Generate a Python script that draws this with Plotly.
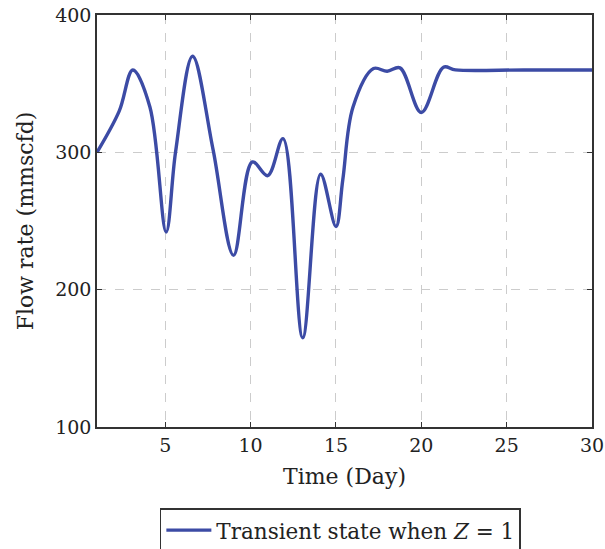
import plotly.graph_objects as go

time_day = [1, 2.3, 3.1, 4.1, 5.05, 5.6, 6.6, 7.8, 9.0, 10.1, 11.0, 11.9, 13.05, 14.1, 15.0, 15.4, 16.0, 17.2, 18.0, 18.75, 20.0, 21.3, 22.0, 26.0, 30]
flow_rate = [300, 330, 360, 333, 242, 300, 370, 302, 225, 293, 283, 310, 165, 284, 246, 280, 333, 361, 359, 361.5, 329, 362, 360, 360, 360]

x_ticks = [5, 10, 15, 20, 25, 30]
y_ticks = [100, 200, 300, 400]

font_family = "DejaVu Serif, Liberation Serif, serif"

fig = go.Figure()
fig.add_trace(go.Scatter(
    x=time_day, y=flow_rate, mode="lines",
    line=dict(color="#3c4ba5", width=3.4, shape="spline", smoothing=1.0),
    name="Transient state when <i>Z</i> = 1",
))

fig.update_layout(
    width=605, height=549,
    margin=dict(l=97, r=13, t=15, b=122, autoexpand=False),
    paper_bgcolor="white", plot_bgcolor="white",
    font=dict(family=font_family, size=19, color="#222"),
    showlegend=True,
    legend=dict(x=0.127, y=-0.197, xanchor="left", yanchor="top",
                bordercolor="#333", borderwidth=1.5, bgcolor="white",
                itemwidth=45,
                font=dict(size=21.5, family=font_family)),
)
axis_common = dict(
    showline=True, linecolor="#333", linewidth=1.5, mirror="ticks",
    ticks="inside", ticklen=5, tickcolor="#333",
    showgrid=True, gridcolor="#cccccc", griddash="dash", gridwidth=1.3,
    zeroline=False, tickfont=dict(size=19, family=font_family), automargin=False,
)
fig.update_xaxes(range=[1, 30], tickvals=x_ticks, ticktext=[str(v) for v in x_ticks],
                 title=dict(text="Time (Day)", font=dict(size=22), standoff=14), **axis_common)
fig.update_yaxes(range=[100, 400], tickvals=y_ticks, ticktext=[str(v) for v in y_ticks],
                 title=dict(text="Flow rate (mmscfd)", font=dict(size=22), standoff=15), **axis_common)

fig.write_html("out.html")
